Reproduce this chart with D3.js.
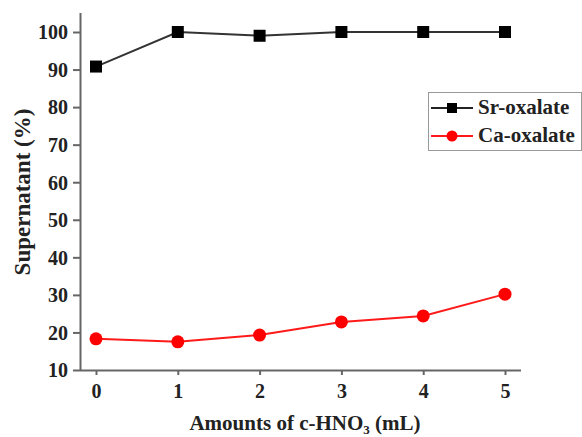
<!DOCTYPE html>
<html>
<head>
<meta charset="utf-8">
<script src="https://cdn.jsdelivr.net/npm/d3@7"></script>
<style>
  body { margin: 0; background: #fff; }
  text { font-family: "Liberation Serif", "Times New Roman", serif; font-weight: bold; }
</style>
</head>
<body>
<div id="chart"></div>
<script>
// data
const amounts = [0, 1, 2, 3, 4, 5];
const srOxalate = [90.8, 100, 99, 100, 100, 100];
const caOxalate = [18.3, 17.5, 19.3, 22.8, 24.4, 30.2];
const yTicks = [10, 20, 30, 40, 50, 60, 70, 80, 90, 100];
const seriesNames = ["Sr-oxalate", "Ca-oxalate"];

const width = 582, height = 437;

const svg = d3.select("#chart")
  .append("svg")
  .attr("width", width)
  .attr("height", height);

// scales
const x = d3.scaleLinear().domain([0, 5]).range([96, 505]);
const y = d3.scaleLinear().domain([10, 100]).range([370, 32]);

// axes
const xAxis = svg.append("g")
  .attr("transform", "translate(0,370)")
  .call(d3.axisBottom(x).tickValues(amounts).tickFormat(d3.format("d")).tickSize(5).tickSizeOuter(0));
xAxis.select(".domain").attr("d", "M80,0.5H521");

const yAxis = svg.append("g")
  .attr("transform", "translate(80,0)")
  .call(d3.axisLeft(y).tickValues(yTicks).tickSize(7).tickSizeOuter(0));
yAxis.select(".domain").attr("d", "M0.5,13V371");

svg.selectAll(".domain, .tick line")
  .attr("stroke", "#666")
  .attr("stroke-width", 2);
svg.selectAll(".tick text")
  .attr("fill", "#222")
  .style("font-size", "20px")
  .style("font-family", "Liberation Serif, serif")
  .style("font-weight", "bold");
xAxis.selectAll(".tick text").attr("y", 14).attr("dy", "0.71em");
yAxis.selectAll(".tick text").attr("x", -12).attr("dy", "0.34em");

// axis titles
svg.append("text")
  .attr("x", 305)
  .attr("y", 430)
  .attr("text-anchor", "middle")
  .style("font-size", "21px")
  .attr("fill", "#222")
  .html("Amounts of c-HNO<tspan style='font-size:13px' dy='4'>3</tspan><tspan dy='-4'> (mL)</tspan>");

svg.append("text")
  .attr("transform", "translate(30,192) rotate(-90)")
  .attr("text-anchor", "middle")
  .style("font-size", "23px")
  .attr("fill", "#222")
  .text("Supernatant (%)");

// lines + markers
const line = d3.line()
  .x((d, i) => x(amounts[i]))
  .y(d => y(d));

svg.append("path")
  .datum(srOxalate)
  .attr("fill", "none")
  .attr("stroke", "#333")
  .attr("stroke-width", 2)
  .attr("d", line);

svg.append("path")
  .datum(caOxalate)
  .attr("fill", "none")
  .attr("stroke", "#ff1a1a")
  .attr("stroke-width", 2)
  .attr("d", line);

svg.selectAll(".sr")
  .data(srOxalate)
  .enter()
  .append("rect")
  .attr("x", (d, i) => x(amounts[i]) - 6)
  .attr("y", d => y(d) - 6)
  .attr("width", 12)
  .attr("height", 12)
  .attr("fill", "#000");

svg.selectAll(".ca")
  .data(caOxalate)
  .enter()
  .append("circle")
  .attr("cx", (d, i) => x(amounts[i]))
  .attr("cy", d => y(d))
  .attr("r", 6.5)
  .attr("fill", "#ff0000");

// legend
const legend = svg.append("g");
legend.append("rect")
  .attr("x", 428.5)
  .attr("y", 92.5)
  .attr("width", 153)
  .attr("height", 58)
  .attr("fill", "#fff")
  .attr("stroke", "#999")
  .attr("stroke-width", 1);

const colors = ["#222", "#ff1a1a"];
seriesNames.forEach((name, i) => {
  const ly = 108 + i * 28;
  legend.append("line")
    .attr("x1", 431).attr("x2", 473)
    .attr("y1", ly).attr("y2", ly)
    .attr("stroke", colors[i])
    .attr("stroke-width", 2);
  if (i === 0) {
    legend.append("rect")
      .attr("x", 447).attr("y", ly - 5)
      .attr("width", 10).attr("height", 10)
      .attr("fill", "#000");
  } else {
    legend.append("circle")
      .attr("cx", 452).attr("cy", ly)
      .attr("r", 5.5)
      .attr("fill", "#ff0000");
  }
  legend.append("text")
    .attr("x", 478)
    .attr("y", ly + 6)
    .style("font-size", "21px")
    .attr("fill", "#222")
    .text(name);
});
</script>
</body>
</html>
